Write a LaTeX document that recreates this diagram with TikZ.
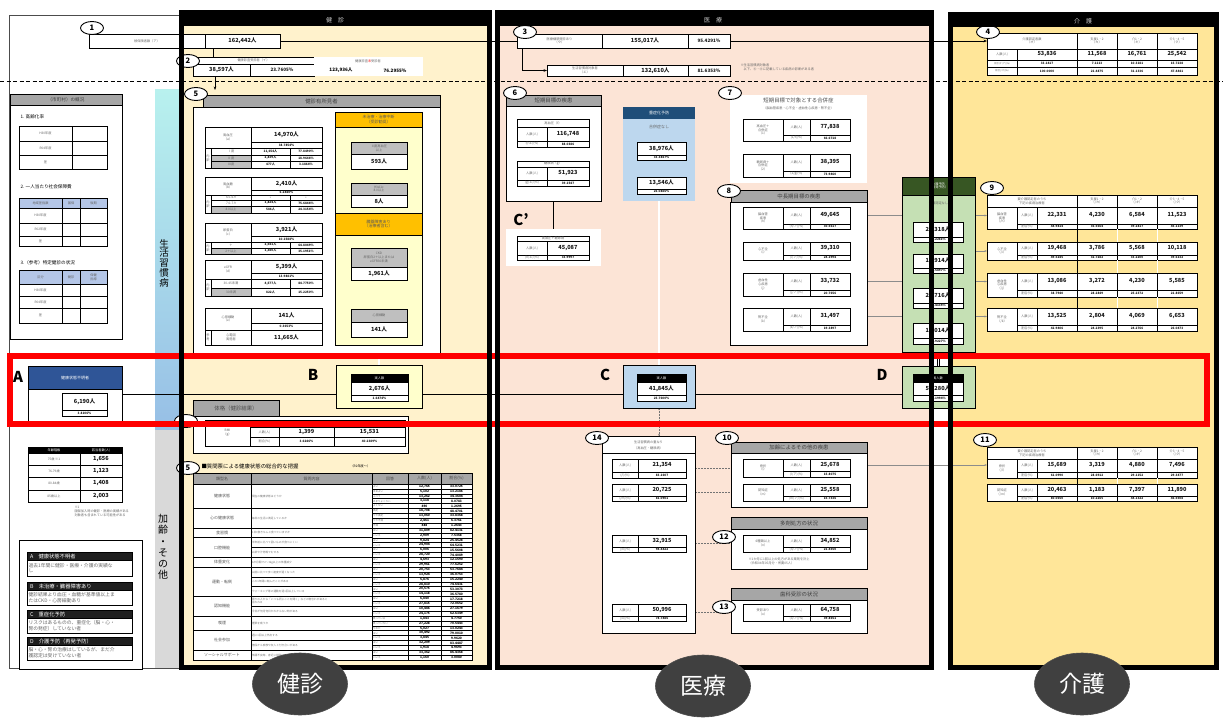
\documentclass[tikz,border=0pt]{standalone}
\usepackage{fontspec}
\setmainfont{Noto Sans CJK JP}
\usetikzlibrary{calc,shapes.geometric,arrows.meta}
\pgfdeclarelayer{bg}
\pgfdeclarelayer{mid}
\pgfdeclarelayer{fg}
\pgfsetlayers{bg,mid,main,fg}
\definecolor{kenshinbg}{HTML}{FFF2CC}
\definecolor{iryobg}{HTML}{FCE4D6}
\definecolor{kaigobg}{HTML}{FFE699}
\definecolor{hgray}{HTML}{A6A6A6}
\definecolor{cellgray}{HTML}{BFBFBF}
\definecolor{orangehd}{HTML}{FFC000}
\definecolor{paleyel}{HTML}{FFFFCC}
\definecolor{navy}{HTML}{1F4E79}
\definecolor{navyA}{HTML}{2F5597}
\definecolor{paleblue}{HTML}{BDD7EE}
\definecolor{dkgreen}{HTML}{375623}
\definecolor{palegreen}{HTML}{C5E0B4}
\definecolor{tblblue}{HTML}{B4C6E7}
\definecolor{bandtop}{HTML}{B8F1EE}
\definecolor{bandbot}{HTML}{97BFE6}
\definecolor{bandgray}{HTML}{D9D9D9}
\definecolor{ovalgray}{HTML}{404040}
% font sizes
\newcommand\fa{\fontsize{3.2}{3.6}\selectfont}
\newcommand\fb{\fontsize{4}{4.6}\selectfont}
\newcommand\fc{\fontsize{5.6}{6}\selectfont\bfseries}
\newcommand\fd{\fontsize{5.4}{6}\selectfont}
\newcommand\fe{\fontsize{4.6}{5}\selectfont\bfseries}
\newcommand\fh{\fontsize{4.6}{5.2}\selectfont}
\newcommand\fpct{\fontsize{3.1}{3.4}\selectfont\bfseries}
\newcommand\fqa{\fontsize{2.5}{2.7}\selectfont}
\newcommand\fqn{\fontsize{3.2}{3.4}\selectfont\bfseries}
\newcommand\fqq{\fontsize{2.7}{3}\selectfont}
\tikzset{
  cell/.style={draw, line width=0.6pt, fill=white, inner sep=0pt, outer sep=0pt, align=center, font=\fb, text=black!65},
  lab/.style={cell, font=\fa, text=black!60},
  val/.style={cell, font=\fc, text=black!90},
  pct/.style={cell, font=\fpct, text=black!90},
  ghead/.style={cell, fill=hgray, font=\fd, text=black!75},
  qa/.style={cell, line width=0.4pt, font=\fqa, text=black!55, inner xsep=1pt, text width=34pt, align=left},
  qn/.style={cell, line width=0.4pt, font=\fqn, text=black},
  qc/.style={cell, font=\fb, text=black!65},
  qq/.style={cell, font=\fqq, text=black!55, inner xsep=1pt, text width=119pt, align=left},
  cnum/.style={ellipse, draw, line width=0.9pt, fill=white, inner sep=0pt, minimum width=23pt, minimum height=13pt, font=\fontsize{7.5}{8}\selectfont\bfseries},
  bigletter/.style={font=\fontsize{15}{15}\selectfont\bfseries},
  hdrtxt/.style={font=\fontsize{6}{6}\selectfont, text=black!20},
  oval/.style={ellipse, fill=ovalgray, draw=black!70, line width=0.6pt, minimum width=95pt, minimum height=62pt, text=white, font=\fontsize{23}{23}\selectfont},
  conn/.style={line width=0.6pt},
  thinln/.style={line width=0.4pt, black!45},
  dots/.style={densely dotted, line width=0.5pt, black!55},
  dbl/.style={double, double distance=1.6pt, line width=0.5pt},
  legh/.style={cell, fill=black!88, text=white, font=\fontsize{5.3}{6}\selectfont, inner xsep=3pt, text width=99pt, align=left},
  legd/.style={cell, font=\fontsize{4.8}{5.6}\selectfont, text=black!60, inner xsep=1.5pt, text width=102pt, align=left},
}
% a box given by its corners, with its text centred
\newcounter{bxc}
\newcommand\bx[6][]{\stepcounter{bxc}\node[cell,name=bx\arabic{bxc},minimum width={(#4-#2)*1pt},minimum height={(#5-#3)*1pt},#1] at ({(#2+#4)/2},{(#3+#5)/2}) {#6};}
% health-check groups
\newcommand\hgroup[6]{\bx[lab]{205}{#1}{251}{#3}{#4}\bx[val]{251}{#1}{322}{#2}{#5}\bx[pct]{251}{#2}{322}{#3}{#6}}
\newcommand\drow[7]{\bx[lab,fill=#6]{211}{#1}{251}{#2}{#3}\bx[pct]{251}{#1}{290}{#2}{#4}\bx[pct,name=#7]{290}{#1}{322}{#2}{#5}}
% medical rows
\newcommand\mrow[9]{\bx[lab,name=#9]{743}{#1}{783}{#3}{#4}\bx[lab]{783}{#1}{810}{#2}{#5}\bx[val,name=#9v]{810}{#1}{850}{#2}{#6}\bx[lab]{783}{#2}{810}{#3}{#7}\bx[pct]{810}{#2}{850}{#3}{#8}}
\newcommand\orow[7]{\bx[lab]{612}{#1}{638}{#2}{人数(人)}\bx[val,name=#7]{638}{#1}{686}{#2}{#4}\bx[lab]{612}{#2}{638}{#3}{#5}\bx[pct]{638}{#2}{686}{#3}{#6}}
% care tables
\newcommand\ktop[5]{\bx[lab,name=#5]{987}{#1}{1017}{#3}{#4}\bx[lab]{1017}{#1}{1037}{#2}{人数(人)}\bx[lab]{1017}{#2}{1037}{#3}{割合(\%)}}
\newcommand\kvals[7][val]{\bx[#1]{1037}{#2}{1077}{#3}{#4}\bx[#1]{1077}{#2}{1117}{#3}{#5}\bx[#1]{1117}{#2}{1157}{#3}{#6}\bx[#1]{1157}{#2}{1197}{#3}{#7}}
\newcommand\khead[2]{\bx[lab]{987}{#1}{1077}{#2}{要介護認定者のうち\\下記の疾病治療者}\bx[lab]{1077}{#1}{1117}{#2}{支援1・2\\（/カ）}\bx[lab]{1117}{#1}{1157}{#2}{介1・2\\（/キ）}\bx[lab]{1157}{#1}{1197}{#2}{介3・4・5\\（/ク）}}
% questionnaire table
\newcommand\qrow[4]{\pgfmathsetmacro\qya{484+#1*4.889}\pgfmathsetmacro\qyb{484+(#1+1)*4.889}\bx[qa]{372}{\qya}{408}{\qyb}{#2}\bx[qn]{408}{\qya}{441}{\qyb}{#3}\bx[qn]{441}{\qya}{472}{\qyb}{#4}}
\newcommand\qcat[3]{\pgfmathsetmacro\qya{484+#1*4.889}\pgfmathsetmacro\qyb{484+(#1+#2)*4.889}\bx[qc]{193}{\qya}{251}{\qyb}{#3}}
\newcommand\qque[3]{\pgfmathsetmacro\qya{484+#1*4.889}\pgfmathsetmacro\qyb{484+(#1+#2)*4.889}\bx[qq]{251}{\qya}{372}{\qyb}{#3}}

\begin{document}
\begin{tikzpicture}[x=1pt,y=-1pt]
\useasboundingbox (0,0) rectangle (1223,720);

\begin{pgfonlayer}{bg}
  \fill[white] (0,0) rectangle (1223,720);
  \draw[line width=0.6pt,black!70] (9,15) rectangle (180,668);
  \shade[top color=bandtop,bottom color=bandbot] (155,89) rectangle (179,430);
  \fill[bandgray] (155,430) rectangle (179,668);
  \fill[kenshinbg] (181,12) rectangle (489,667);
  \fill[iryobg] (497,12) rectangle (931,667);
  \fill[kaigobg] (950,14) rectangle (1216,667);
  \draw[line width=0.8pt,dash pattern=on 4pt off 2.5pt] (0,81) -- (1223,81);
\end{pgfonlayer}

% ---------- overview panel ----------
\bx[cell,name=nov]{10}{94}{122}{339}{}
\bx[ghead,font=\fh]{10}{94}{122}{105}{（市町村）の概況}
\node[font=\fh,anchor=west] (ov1t) at (17,117) {1. 高齢化率};
\bx[lab]{19}{126}{72}{141}{H30年度}\bx[lab]{72}{126}{107}{141}{}
\bx[lab]{19}{141}{72}{155}{R04年度}\bx[lab]{72}{141}{107}{155}{}
\bx[lab]{19}{155}{72}{169}{差}\bx[lab]{72}{155}{107}{169}{}
\node[font=\fh,anchor=west] (ov2t) at (17,187) {2. 一人当たり社会保障費};
\bx[lab,fill=tblblue]{19}{198}{62}{208}{地域差指数}\bx[lab,fill=tblblue]{62}{198}{80}{208}{国保}\bx[lab,fill=tblblue]{80}{198}{107}{208}{後期}
\bx[lab]{19}{208}{62}{223}{H30年度}\bx[lab]{62}{208}{80}{223}{}\bx[lab]{80}{208}{107}{223}{}
\bx[lab]{19}{223}{62}{236}{R02年度}\bx[lab]{62}{223}{80}{236}{}\bx[lab]{80}{223}{107}{236}{}
\bx[lab]{19}{236}{62}{246}{差}\bx[lab]{62}{236}{80}{246}{}\bx[lab]{80}{236}{107}{246}{}
\node[font=\fh,anchor=west] (ov3t) at (17,263) {3.（参考）特定健診の状況};
\bx[lab,fill=tblblue]{19}{270}{62}{284}{区分}\bx[lab,fill=tblblue]{62}{270}{80}{284}{健診}\bx[lab,fill=tblblue]{80}{270}{107}{284}{保健\\指導}
\bx[lab]{19}{284}{62}{296}{H30年度}\bx[lab]{62}{284}{80}{296}{}\bx[lab]{80}{284}{107}{296}{}
\bx[lab]{19}{296}{62}{308}{R04年度}\bx[lab]{62}{296}{80}{308}{}\bx[lab]{80}{296}{107}{308}{}
\bx[lab]{19}{308}{62}{323}{差}\bx[lab]{62}{308}{80}{323}{}\bx[lab]{80}{308}{107}{323}{}

\node[font=\fontsize{9.5}{9.7}\selectfont,align=center] (band1) at (164,263) {生\\活\\習\\慣\\病};
\node[font=\fontsize{10}{11.2}\selectfont,align=center] (band2) at (163,547) {加\\齢\\・\\そ\\の\\他};

% ---------- A ----------
\bx[cell,name=nA]{28}{366}{122}{422}{}
\bx[cell,fill=navyA,text=white,font=\fb]{28}{366}{122}{389}{健康状態不明者}
\bx[val]{62}{393}{107}{410}{6,190人}
\bx[pct]{62}{410}{107}{416}{3.8106\%}
\node[bigletter] (lA) at (18,377) {A};

% age table
\bx[cell,fill=black,text=white,font=\fa]{28}{447}{80}{453}{年齢階級}
\bx[cell,fill=black,text=white,font=\fa]{80}{447}{122}{453}{該当者数(人)}
\bx[lab]{28}{453}{80}{465}{75歳 ※1}\bx[val]{80}{453}{122}{465}{1,656}
\bx[lab]{28}{465}{80}{477}{76-79歳}\bx[val]{80}{465}{122}{477}{1,123}
\bx[lab]{28}{477}{80}{490}{80-84歳}\bx[val]{80}{477}{122}{490}{1,408}
\bx[lab]{28}{490}{80}{502}{85歳以上}\bx[val]{80}{490}{122}{502}{2,003}
\node[font=\fa,text=black!60,anchor=north west,align=left] (agenote) at (71,503) {※1\\国保加入時の健診・医療の実績がある\\対象者も含まれている可能性がある};

% legend
\bx[cell,line width=0.8pt,name=nleg]{19}{540}{142}{669}{}
\bx[legh]{27}{552}{132}{560}{A　健康状態不明者}
\bx[legd]{27}{560}{132}{576}{過去1年間に健診・医療・介護の実績な\\し}
\bx[legh]{27}{582}{132}{590}{B　未治療・臓器障害あり}
\bx[legd]{27}{590}{132}{605}{健診結果より血圧・血糖が基準値以上ま\\たはCKD・心房細動あり}
\bx[legh]{27}{610}{132}{618}{C　重症化予防}
\bx[legd]{27}{618}{132}{633}{リスクはあるものの、重症化（脳・心・\\腎の発症）していない者}
\bx[legh]{27}{637}{132}{645}{D　介護予防（再発予防）}
\bx[legd]{27}{645}{132}{660}{脳・心・腎の治療はしているが、まだ介\\護認定は受けていない者}

% ---------- health check: 1, 2 ----------
\bx[lab,name=n1lab]{89}{34}{205}{48}{被保険者数（ア）}
\bx[val,name=n1val]{205}{34}{280}{48}{162,442人}
\node[cnum] (c1) at (92,28) {1};
\bx[lab,name=n2hdr]{193}{57}{314}{64}{健康診査受診者（イ）}
\bx[val,name=n2num]{193}{64}{250}{76}{38,597人}
\bx[val,font=\fe,name=n2pct]{250}{64}{314}{76}{23.7605\%}
\bx[cell,draw=none,name=n2un]{314}{57}{423}{76}{}
\node[font=\fa,text=black!60] (n2unt) at (368,61) {健康診査\textcolor{red}{未}受診者};
\node[font=\fe] (n2unn) at (341,70.5) {123,936人};
\node[font=\fe] (n2unp) at (395,70.5) {76.2955\%};
\node[cnum] (c2) at (188,61) {2};

% ---------- 5: findings ----------
\bx[cell,name=n5box]{193}{107}{440}{353}{}
\bx[ghead,name=n5hdr]{203}{95}{440}{107}{健診有所見者}
\node[cnum] (c5) at (196,94) {5};
\hgroup{127}{142}{148}{高血圧\\（a）}{14,970人}{38.7854\%}
\bx[lab]{205}{148}{211}{168}{内\\訳}
\drow{148}{155}{Ⅰ度}{11,654人}{77.8490\%}{white}{d1}
\drow{155}{161}{Ⅱ度}{2,839人}{18.9646\%}{cellgray}{d2}
\drow{161}{168}{Ⅲ度}{477人}{3.1864\%}{cellgray}{d3}
\hgroup{177}{190}{195}{高血糖\\（b）}{2,410人}{6.2440\%}
\bx[lab]{205}{195}{211}{213}{内\\訳}
\drow{195}{200}{6.5-6.9}{-}{-}{white}{d4}
\drow{200}{206}{7.0-7.9}{1,824人}{75.6846\%}{white}{d5}
\drow{206}{213}{8.0以上}{586人}{24.3154\%}{cellgray}{d6}
\hgroup{223}{236}{242}{尿蛋白\\（c）}{3,921人}{10.1588\%}
\bx[lab]{205}{242}{211}{254}{内\\訳}
\drow{242}{248}{＋}{2,541人}{64.8049\%}{white}{d7}
\drow{248}{254}{2＋以上}{1,380人}{35.1951\%}{cellgray}{ncrow}
\hgroup{260}{273}{279}{eGFR\\（d）}{5,399人}{13.9881\%}
\bx[lab]{205}{279}{211}{296}{内\\訳}
\drow{279}{288}{30-45未満}{4,577人}{84.7750\%}{white}{d9}
\drow{288}{296}{30未満}{822人}{15.2250\%}{cellgray}{ndrow}
\hgroup{308}{323}{330}{心房細動\\（e）}{141人}{0.3653\%}
\bx[lab]{205}{330}{211}{345}{参\\考}
\bx[lab]{211}{330}{251}{345}{心電図\\実施者}
\bx[val]{251}{330}{322}{345}{11,665人}

\bx[cell,fill=orangehd,font=\fb,name=nuntx]{335}{112}{422}{127}{未治療・治療中断\\（受診勧奨）}
\bx[cell,fill=paleyel]{335}{127}{422}{213}{}
\bx[lab,fill=cellgray]{351}{142}{407}{154}{Ⅱ度高血圧\\以上}
\bx[val,name=nB1]{351}{154}{407}{169}{593人}
\bx[lab,fill=cellgray]{351}{183}{407}{195}{HbA1c\\8.0以上}
\bx[val]{351}{195}{407}{207}{8人}
\bx[cell,fill=orangehd,font=\fb]{335}{213}{422}{235}{臓器障害あり\\（治療者含む）}
\bx[cell,fill=paleyel]{335}{235}{422}{345}{}
\bx[lab,fill=cellgray,name=nckd]{351}{248}{407}{267}{CKD\\尿蛋白2＋以上または\\eGFR30未満}
\bx[val]{351}{267}{407}{280}{1,961人}
\bx[lab,fill=cellgray]{351}{309}{407}{322}{心房細動}
\bx[val]{351}{322}{407}{337}{141人}

% B
\bx[cell,fill=paleyel,line width=0.8pt,name=nB]{336}{365}{422}{408}{}
\bx[cell,fill=black,text=white,font=\fa]{351}{374}{408}{382}{実人数}
\bx[val]{351}{382}{408}{395}{2,676人}
\bx[pct]{351}{395}{408}{401}{1.6474\%}
\node[bigletter] (lB) at (313,375) {B};

% body size
\bx[cell,fill=hgray,font=\fd,text=black!70]{193}{400}{279}{416}{体格（健診結果）}
\bx[cell,name=nbmi]{193}{416}{408}{453}{}
\bx[lab]{205}{420}{250}{446}{BMI\\（g）}
\bx[lab]{250}{420}{279}{427}{}\bx[lab]{279}{420}{334}{427}{}\bx[lab]{334}{420}{405}{427}{}
\bx[lab]{250}{427}{279}{437}{人数(人)}\bx[val]{279}{427}{334}{437}{1,399}\bx[val]{334}{427}{405}{437}{15,531}
\bx[lab]{250}{437}{279}{446}{割合(\%)}\bx[pct]{279}{437}{334}{446}{3.6246\%}\bx[pct]{334}{437}{405}{446}{40.2389\%}
\node[cnum] (c6b) at (186,421) {};

% questionnaire
\node[font=\fd,anchor=west] (qtitle) at (198,466) {■質問票による健康状態の総合的な把握};
\node[font=\fa,anchor=west] (qyear) at (347,466.5) {（R2年度～）};
\bx[cell,fill=hgray,font=\fb,text=black!70]{193}{473}{251}{484}{類型名}
\bx[cell,fill=hgray,font=\fb,text=black!70]{251}{473}{372}{484}{質問内容}
\bx[cell,fill=hgray,font=\fb,text=black!70]{372}{473}{408}{484}{回答}
\bx[cell,fill=hgray,font=\fb,text=black!70]{408}{473}{441}{484}{人数(人)}
\bx[cell,fill=hgray,font=\fb,text=black!70]{441}{473}{472}{484}{割合(\%)}
\qcat{0}{5}{健康状態}\qque{0}{5}{現在の健康状態はどうか}
\qrow{0}{よい}{12,765}{33.0725}
\qrow{1}{まあよい}{5,102}{13.2186}
\qrow{2}{ふつう}{13,262}{34.3604}
\qrow{3}{あまりよくない}{3,118}{8.0783}
\qrow{4}{よくない}{490}{1.2695}
\qcat{5}{4}{心の健康状態}\qque{5}{4}{毎日の生活に満足しているか}
\qrow{5}{満足}{18,708}{48.4701}
\qrow{6}{やや満足}{13,060}{33.8368}
\qrow{7}{やや不満}{2,461}{6.3761}
\qrow{8}{不満}{488}{1.2643}
\qcat{9}{2}{食習慣}\qque{9}{2}{1日3食きちんと食べていますか}
\qrow{9}{はい}{31,809}{82.4131}
\qrow{10}{いいえ}{2,909}{7.5368}
\qcat{11}{4}{口腔機能}\qque{11}{2}{半年前に比べて固いものが食べにくい}\qque{13}{2}{お茶や汁物等でむせる}
\qrow{11}{はい}{9,824}{25.4528}
\qrow{12}{いいえ}{24,904}{64.5231}
\qrow{13}{はい}{6,006}{15.5608}
\qrow{14}{いいえ}{28,720}{74.4089}
\qcat{15}{2}{体重変化}\qque{15}{2}{6か月間で2～3kg以上の体重減少}
\qrow{15}{はい}{4,693}{12.1590}
\qrow{16}{いいえ}{29,961}{77.6252}
\qcat{17}{6}{運動・転倒}\qque{17}{2}{以前に比べて歩く速度が遅くなった}\qque{19}{2}{この1年間に転んだことがある}\qque{21}{2}{ウォーキング等の運動を週1回以上している}
\qrow{17}{はい}{20,753}{53.7684}
\qrow{18}{いいえ}{13,924}{36.0753}
\qrow{19}{はい}{5,876}{15.2240}
\qrow{20}{いいえ}{28,810}{74.6431}
\qrow{21}{はい}{20,575}{53.3073}
\qrow{22}{いいえ}{14,118}{36.5780}
\qcat{23}{4}{認知機能}\qque{23}{2}{周りの人から「いつも同じことを聞く」などの物忘れがあると\\言われる}\qque{25}{2}{今日が何月何日かわからない時がある}
\qrow{23}{はい}{6,840}{17.7218}
\qrow{24}{いいえ}{27,815}{72.0652}
\qrow{25}{はい}{10,486}{27.1679}
\qrow{26}{いいえ}{24,175}{62.6349}
\qcat{27}{3}{喫煙}\qque{27}{3}{煙草を吸うか}
\qrow{27}{吸っている}{1,843}{4.7750}
\qrow{28}{吸っていない}{27,228}{70.5443}
\qrow{29}{やめた}{5,027}{13.0243}
\qcat{30}{4}{社会参加}\qque{30}{2}{週に1回以上外出する}\qque{32}{2}{普段から家族や友人と付き合いがある}
\qrow{30}{はい}{30,492}{79.0010}
\qrow{31}{いいえ}{3,845}{9.9620}
\qrow{32}{はい}{32,209}{83.4487}
\qrow{33}{いいえ}{1,918}{4.9693}
\qcat{34}{2}{ソーシャルサポート}\qque{34}{2}{体調不良時、身近に相談できる人がいる}
\qrow{34}{はい}{33,362}{86.4368}
\qrow{35}{いいえ}{1,160}{3.0080}
\draw[line width=0.9pt] (193,473) rectangle (472,660);
\node[cnum] (c5q) at (188,468) {5};

% ---------- medical: 3 ----------
\bx[lab,name=n3lab]{517}{34}{602}{48}{医療機関受診あり\\（ウ）}
\bx[val,name=n3val]{602}{34}{688}{48}{155,017人}
\bx[val,font=\fe,name=n3pct]{688}{34}{730}{48}{95.4291\%}
\node[cnum] (c3) at (525,32) {3};
\bx[lab,name=n3blab]{547}{65}{623}{76}{生活習慣病対象者\\（エ）}
\bx[val]{623}{65}{688}{76}{132,610人}
\bx[val,font=\fe]{688}{65}{730}{76}{81.6353\%}
\node[font=\fa,text=black!60,anchor=west,align=left] (n3note) at (737,67) {※生活習慣病対象者\\　以下、⑥・⑧に記載している疾病の診断がある者};

% 6
\bx[cell,name=n6box]{506}{106}{601}{201}{}
\bx[ghead,name=n6hdr]{506}{95}{601}{106}{短期目標の疾患}
\node[cnum] (c6) at (515,93) {6};
\bx[lab]{517}{119}{589}{127}{高血圧（f）}
\bx[lab]{517}{127}{547}{141}{人数(人)}\bx[val]{547}{127}{589}{141}{116,748}
\bx[lab]{517}{141}{547}{147}{(f/エ)(\%)}\bx[pct]{547}{141}{589}{147}{88.0386}
\bx[lab]{517}{161}{589}{167}{糖尿病（g）}
\bx[lab]{517}{167}{547}{180}{人数(人)}\bx[val]{547}{167}{589}{180}{51,923}
\bx[lab]{517}{180}{547}{186}{(g/エ)(\%)}\bx[pct]{547}{180}{589}{186}{39.1547}
\node[bigletter] (lCp) at (521,220) {C'};
\bx[cell,draw=none,name=nCp]{506}{229}{601}{266}{}
\bx[lab]{517}{236}{589}{241}{高血圧＋糖尿病}
\bx[lab]{517}{241}{547}{255}{人数(人)}\bx[val]{547}{241}{589}{255}{45,087}
\bx[lab]{517}{255}{547}{260}{(h/エ)(\%)}\bx[pct]{547}{255}{589}{260}{33.9997}

% severity prevention
\bx[cell,fill=navy,draw=none,text=white,font=\fb,name=njh]{623}{107}{695}{119}{重症化予防}
\bx[cell,fill=paleblue,draw=none,name=njb]{623}{119}{695}{201}{}
\node[font=\fb,text=black!60] (njt) at (659,127) {合併症なし};
\bx[val,name=nj1]{637}{142}{686}{155}{38,976人}
\bx[pct,name=nj1p]{637}{155}{686}{160}{33.3847\%}
\bx[val,name=nj2]{637}{177}{686}{189}{13,546人}
\bx[pct,name=nj2p]{637}{189}{686}{194}{26.0886\%}

% C
\bx[cell,fill=paleblue,name=nC]{623}{365}{695}{408}{}
\bx[cell,fill=black,text=white,font=\fa]{637}{374}{686}{382}{実人数}
\bx[val]{637}{382}{686}{395}{41,845人}
\bx[pct]{637}{395}{686}{401}{25.7600\%}
\node[bigletter] (lC) at (605,375) {C};

% 7
\bx[cell,draw=none,name=n7box]{730}{95}{867}{183}{}
\node[font=\fd,text=black!70] (n7t) at (798.5,100) {短期目標で対象とする合併症};
\node[font=\fa,text=black!60] (n7s) at (798.5,108) {（脳血管疾患・心不全・虚血性心疾患・腎不全）};
\mrow{119}{135}{141}{高血圧＋\\合併症\\（1）}{人数(人)}{77,838}{(1/f)(\%)}{66.6718}{m71}
\mrow{154}{171}{177}{糖尿病＋\\合併症\\（2）}{人数(人)}{38,395}{(2/g)(\%)}{73.9460}{m72}
\node[cnum] (c7) at (730,93) {7};

% 8
\bx[cell,name=n8box]{730}{202}{867}{345}{}
\bx[ghead]{731}{190}{867}{202}{中長期目標の疾患}
\mrow{207}{224}{229}{脳血管\\疾患\\（h）}{人数(人)}{49,645}{(h/ア)(\%)}{30.5617}{m8h}
\mrow{242}{255}{260}{心不全\\（i）}{人数(人)}{39,310}{(i/ア)(\%)}{24.1994}{m8i}
\mrow{273}{290}{296}{虚血性\\心疾患\\（j）}{人数(人)}{33,732}{(j/ア)(\%)}{20.7656}{m8j}
\mrow{308}{325}{331}{腎不全\\（k）}{人数(人)}{31,497}{(k/ア)(\%)}{19.3897}{m8k}
\node[cnum] (c8) at (729,191) {8};

% 14
\bx[cell,name=n14]{602}{436}{695}{633}{}
\node[font=\fa,text=black!60] (n14t) at (648.5,442) {生活習慣病の重なり};
\node[font=\fa,text=black!60] (n14s) at (648.5,448) {（高血圧・糖尿病）};
\draw[line width=0.6pt] (n14.west |- n14s.south) -- (n14.east |- n14s.south);
\orow{459}{472}{478}{21,354}{(/l)(\%)}{83.1607}{o1}
\orow{484}{496}{501}{20,725}{(/m)(\%)}{81.0901}{o2}
\orow{535}{547}{552}{32,915}{(/n)(\%)}{94.4422}{o3}
\orow{604}{616}{621}{50,996}{(/o)(\%)}{78.7486}{o4}
\node[cnum] (c14) at (597,438) {14};

% 10
\bx[cell]{731}{453}{867}{507}{}
\bx[ghead]{731}{442}{867}{453}{加齢によるその他の疾患}
\mrow{459}{471}{477}{骨折\\（l）}{人数(人)}{25,678}{(l/ア)(\%)}{15.8075}{m10l}
\mrow{484}{496}{501}{認知症\\（m）}{人数(人)}{25,558}{(m/ア)(\%)}{15.7336}{m10m}
\node[cnum] (c10) at (727,438) {10};

% 12
\bx[cell]{731}{529}{867}{569}{}
\bx[ghead]{731}{517}{867}{529}{多剤処方の状況}
\mrow{535}{547}{552}{6種類以上\\（n）}{人数(人)}{34,852}{(n/ア)(\%)}{21.4550}{m12}
\node[font=\fa,text=black!60,anchor=west,align=left] (n12note) at (745,561) {※1か月に1回以上の処方がある薬剤を計上\\（令和04年05月分・所要05人）};
\node[cnum] (c12) at (724,537) {12};

% 13
\bx[cell]{731}{600}{867}{633}{}
\bx[ghead]{731}{588}{867}{600}{歯科受診の状況}
\mrow{604}{616}{621}{受診あり\\（o）}{人数(人)}{64,758}{(o/ア)(\%)}{39.8651}{m13}
\node[cnum] (c13) at (724,607) {13};

% ---------- care prevention (green) ----------
\bx[cell,fill=palegreen,name=ngb]{902}{195}{975}{352}{}
\bx[cell,fill=dkgreen,text=white,font=\fa,name=ngh]{902}{177}{975}{195}{介護予防\\（再発予防）}
\node[font=\fa,text=black!60] (ngt) at (938.5,203) {介護認定なし};
\bx[val,name=ng1]{913}{222}{963}{237}{27,318人}\bx[pct,name=ng1p]{913}{237}{963}{242}{55.2281\%}
\bx[val,name=ng2]{913}{254}{963}{268}{19,914人}\bx[pct,name=ng2p]{913}{268}{963}{273}{50.5897\%}
\bx[val,name=ng3]{913}{288}{963}{303}{20,716人}\bx[pct,name=ng3p]{913}{303}{963}{308}{61.4135\%}
\bx[val,name=ng4]{913}{323}{963}{338}{18,014人}\bx[pct,name=ng4p]{913}{338}{963}{344}{57.9227\%}

% D
\bx[cell,fill=palegreen,name=nD]{902}{366}{975}{408}{}
\bx[cell,fill=black,text=white,font=\fa]{913}{374}{963}{382}{実人数}
\bx[val]{913}{382}{963}{395}{52,280人}
\bx[pct]{913}{395}{963}{401}{32.1994\%}
\node[bigletter] (lD) at (882,375) {D};

% ---------- care: 4 ----------
\bx[lab,name=n4h]{987}{33}{1077}{49}{介護認定者数\\（オ）}
\bx[lab]{1077}{33}{1117}{49}{支援1・2\\（カ）}
\bx[lab]{1117}{33}{1157}{49}{介1・2\\（キ）}
\bx[lab]{1157}{33}{1197}{49}{介3・4・5\\（ク）}
\bx[lab]{987}{49}{1017}{60}{人数(人)}
\bx[val]{1017}{49}{1077}{60}{53,836}\bx[val]{1077}{49}{1117}{60}{11,568}\bx[val]{1117}{49}{1157}{60}{16,761}\bx[val]{1157}{49}{1197}{60}{25,542}
\bx[lab,font=\fontsize{2.3}{2.5}\selectfont]{987}{60}{1017}{67}{割合(オ/ア)(\%)}
\bx[pct]{1017}{60}{1077}{67}{33.1417}\bx[pct]{1077}{60}{1117}{67}{7.1213}\bx[pct]{1117}{60}{1157}{67}{10.3181}\bx[pct]{1157}{60}{1197}{67}{15.7238}
\bx[lab,font=\fontsize{2.3}{2.5}\selectfont]{987}{67}{1017}{75}{割合(/オ)(\%)}
\bx[pct]{1017}{67}{1077}{75}{100.0000}\bx[pct]{1077}{67}{1117}{75}{21.4875}\bx[pct]{1117}{67}{1157}{75}{31.1336}\bx[pct]{1157}{67}{1197}{75}{47.4441}
\node[cnum] (c4) at (988,32) {4};

% 9
\khead{195}{207}
\ktop{207}{224}{229}{脳血管\\疾患\\（/h）}{n9h}
\kvals{207}{224}{22,331}{4,230}{6,584}{11,523}
\kvals[pct]{224}{229}{44.9814}{36.5664}{39.2817}{45.1139}
\ktop{242}{255}{260}{心不全\\（/i）}{n9i}
\kvals{242}{255}{19,468}{3,786}{5,568}{10,118}
\kvals[pct]{255}{260}{49.5245}{32.7282}{33.2200}{39.6132}
\ktop{273}{290}{297}{虚血性\\心疾患\\（/j）}{n9j}
\kvals{273}{290}{13,086}{3,272}{4,230}{5,585}
\kvals[pct]{290}{297}{38.7940}{28.2849}{25.2372}{21.8659}
\ktop{308}{325}{331}{腎不全\\（/k）}{n9k}
\kvals{308}{325}{13,525}{2,804}{4,069}{6,653}
\kvals[pct]{325}{331}{42.9406}{24.2395}{24.2766}{26.0473}
\draw[line width=0.8pt] (1077,229) -- (1077,242) (1077,260) -- (1077,273) (1077,297) -- (1077,308);
\draw[line width=0.8pt,white] (1117,229) -- (1117,242) (1117,260) -- (1117,273) (1117,297) -- (1117,308)
  (1157,229) -- (1157,242) (1157,260) -- (1157,273) (1157,297) -- (1157,308);
\node[cnum] (c9) at (992,188) {9};

% 11
\khead{447}{459}
\ktop{459}{472}{478}{骨折\\（/l）}{n11l}
\kvals{459}{472}{15,689}{3,319}{4,880}{7,496}
\kvals[pct]{472}{478}{61.0990}{28.6912}{29.1152}{29.3477}
\ktop{484}{496}{501}{認知症\\（/m）}{n11m}
\kvals{484}{496}{20,463}{1,183}{7,397}{11,890}
\kvals[pct]{496}{501}{80.0650}{10.2265}{44.1322}{46.5508}
\draw[line width=0.8pt] (1077,478) -- (1077,484);
\draw[line width=0.8pt,white] (1117,478) -- (1117,484) (1157,478) -- (1157,484);
\node[cnum] (c11) at (985,440) {11};

% ---------- connectors ----------
\begin{pgfonlayer}{mid}
  \draw[conn] (n1val.east) -- (n3lab.west);
  \draw[conn,-{Stealth[length=3.5pt]}] (n3pct.east) -- (n4h.west);
  \draw[conn] ([xshift=8pt]n1val.south west) -- ([xshift=8pt]n1val.south west |- n2hdr.north);
  \coordinate (a5) at (215,90);
  \draw[conn,-{Stealth[length=3.5pt]}] ([xshift=-6.5pt]n2num.south) -- (a5);
  \draw[conn,-{Stealth[length=3.5pt]}] ([xshift=5pt]n3lab.south west) |- (n3blab.west);
  \draw[dots,-{Stealth[length=2pt]}] (ncrow.east) -- (ncrow.east -| nckd.west);
  \draw[dots] (ndrow.east) -- ++(5,0) |- (ncrow.east);
  \draw[dbl] (n5box.south -| nB.north) -- (nB.north);
  \draw[conn] (n6box) -- (nCp);
  \draw[conn] (njt) -- (nj1);
  \draw[conn] (nj1p) -- (nj2);
  \draw[dbl] (njb.south) -- (nC.north);
  \draw[conn] (ngt) -- (ng1);
  \draw[conn] (ng1p) -- (ng2);
  \draw[conn] (ng2p) -- (ng3);
  \draw[conn] (ng3p) -- (ng4);
  \draw[dbl] (ngb.south) -- (nD.north);
  \draw[conn] (nA.east) -- (nA.east -| nD.west);
  \draw[dots,{Stealth[length=2pt]}-{Stealth[length=2pt]}] (nC.south) -- (nC.south |- n14.north);
  \draw[dots,-{Stealth[length=2pt]}] (m10l.west) -- (m10l.west -| o1.east);
  \draw[dots,-{Stealth[length=2pt]}] (m10m.west) -- (m10m.west -| o2.east);
  \draw[dots,-{Stealth[length=2pt]}] (m12.west) -- (m12.west -| o3.east);
  \draw[dots,-{Stealth[length=2pt]}] (m13.west) -- (m13.west -| o4.east);
  \draw[thinln,-{Stealth[length=2.5pt]}] (m8hv.east) -- (m8hv.east -| n9h.west);
  \draw[thinln,-{Stealth[length=2.5pt]}] (n9i.west -| ngb.east) -- (n9i.west);
  \draw[thinln,-{Stealth[length=2.5pt]}] (m8jv.east) -- (m8jv.east -| n9j.west);
  \draw[thinln,-{Stealth[length=2.5pt]}] (m8kv.east) -- (m8kv.east -| n9k.west);
  \draw[thinln,-{Stealth[length=2.5pt]}] (m10lv.east) -- (m10lv.east -| n11l.west);
\end{pgfonlayer}

% ---------- frames, focus band, captions ----------
\begin{pgfonlayer}{fg}
  \draw[red,line width=6pt] (10,356) rectangle (1207,424);
  \draw[line width=5pt] (181,12) rectangle (489,667);
  \draw[line width=5pt] (497,12) rectangle (931,667);
  \draw[line width=5pt] (950,14) rectangle (1216,667);
  \fill[black] (183,14) rectangle (487,26);
  \fill[black] (499,14) rectangle (929,26);
  \fill[black] (952,16) rectangle (1214,27);
  \node[hdrtxt] (hk) at (335,20) {健　診};
  \node[hdrtxt] (hi) at (713,20) {医　療};
  \node[hdrtxt] (hc) at (1083,21.5) {介　護};
  \node[oval] (ovk) at (300,684) {健診};
  \node[oval] (ovi) at (703,686) {医療};
  \node[oval] (ovc) at (1082,684) {介護};
\end{pgfonlayer}
\end{tikzpicture}
\end{document}
